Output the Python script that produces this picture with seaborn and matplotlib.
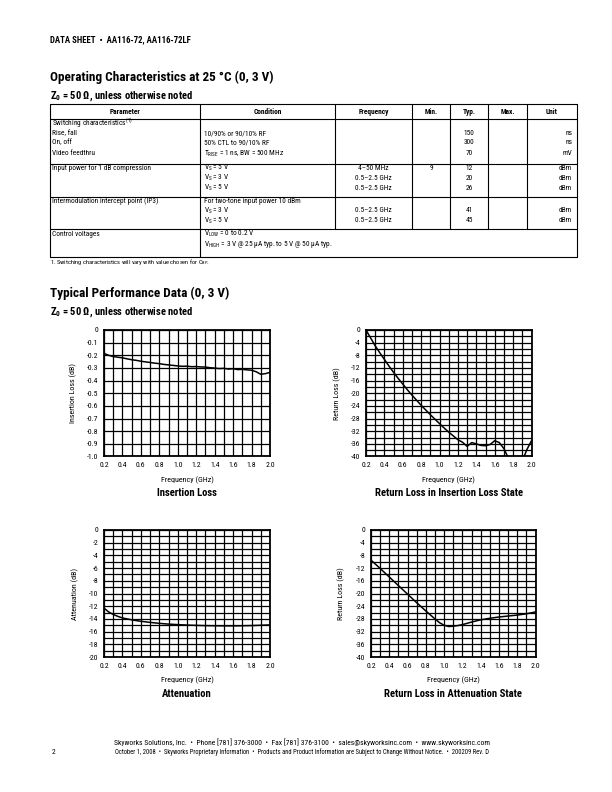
import matplotlib
matplotlib.use("Agg")
import matplotlib.pyplot as plt
import seaborn as sns
import pandas as pd
from matplotlib import font_manager as fm
from matplotlib.lines import Line2D
from matplotlib.ticker import MultipleLocator, FixedLocator, FixedFormatter

# ------------------------------------------------------------------ data
il_freq = [0.20, 0.25, 0.30, 0.35, 0.40, 0.45, 0.50, 0.55, 0.60, 0.65, 0.70, 0.75,
           0.80, 0.85, 0.90, 0.95, 1.00, 1.05, 1.10, 1.15, 1.20, 1.25, 1.30, 1.35,
           1.40, 1.45, 1.50, 1.55, 1.60, 1.65, 1.70, 1.75, 1.80, 1.85, 1.90, 1.95, 2.00]
il_db = [-0.185, -0.200, -0.210, -0.215, -0.220, -0.228, -0.235, -0.240, -0.247, -0.252,
         -0.257, -0.262, -0.266, -0.272, -0.276, -0.280, -0.284, -0.287, -0.286, -0.290,
         -0.289, -0.292, -0.293, -0.298, -0.301, -0.305, -0.303, -0.309, -0.306, -0.313,
         -0.311, -0.315, -0.318, -0.330, -0.350, -0.345, -0.335]

rl_il_freq = [0.20, 0.25, 0.30, 0.35, 0.40, 0.45, 0.50, 0.55, 0.60, 0.65, 0.70, 0.75,
              0.80, 0.85, 0.90, 0.95, 1.00, 1.05, 1.10, 1.15, 1.20, 1.25, 1.30, 1.35,
              1.40, 1.45, 1.50, 1.55, 1.60, 1.65, 1.70, 1.74, 1.78, 1.85, 1.90, 1.92,
              1.95, 2.00]
rl_il_db = [0.0, -2.5, -5.0, -7.2, -9.3, -11.4, -13.4, -15.3, -17.1, -18.9, -20.6, -22.2,
            -23.8, -25.3, -26.8, -28.2, -29.6, -31.0, -32.3, -33.5, -34.7, -35.5, -36.8, -35.6,
            -36.0, -36.5, -36.6, -36.2, -35.0, -35.6, -37.5, -40.0, -44.0, -46.0, -43.0, -40.0,
            -37.8, -35.0]

att_freq = [0.20, 0.25, 0.30, 0.35, 0.40, 0.50, 0.60, 0.70, 0.80, 0.90, 1.00, 1.10,
            1.20, 1.30, 1.40, 1.50, 1.60, 1.70, 1.80, 1.90, 2.00]
att_db = [-12.3, -12.9, -13.3, -13.6, -13.85, -14.15, -14.38, -14.55, -14.7, -14.82, -14.9,
          -14.97, -15.02, -15.06, -15.08, -15.1, -15.1, -15.08, -15.05, -15.0, -14.95]

rl_att_freq = [0.20, 0.30, 0.40, 0.50, 0.60, 0.70, 0.80, 0.90, 0.95, 1.00, 1.05, 1.10,
               1.15, 1.20, 1.30, 1.40, 1.50, 1.60, 1.70, 1.80, 1.90, 2.00]
rl_att_db = [-9.5, -12.1, -14.8, -17.5, -20.2, -22.9, -25.5, -28.0, -29.2, -30.0, -30.4,
             -30.3, -30.1, -29.8, -29.0, -28.3, -27.8, -27.4, -27.1, -26.8, -26.4, -25.8]

freq_ticks = [0.2, 0.4, 0.6, 0.8, 1.0, 1.2, 1.4, 1.6, 1.8, 2.0]
freq_tick_labels = ["0.2", "0.4", "0.6", "0.8", "1.0", "1.2", "1.4", "1.6", "1.8", "2.0"]
il_yticks = [0, -0.1, -0.2, -0.3, -0.4, -0.5, -0.6, -0.7, -0.8, -0.9, -1.0]
il_ytick_labels = ["0", "-0.1", "-0.2", "-0.3", "-0.4", "-0.5", "-0.6", "-0.7", "-0.8", "-0.9", "-1.0"]
rl_yticks = [0, -4, -8, -12, -16, -20, -24, -28, -32, -36, -40]
rl_ytick_labels = ["0", "-4", "-8", "-12", "-16", "-20", "-24", "-28", "-32", "-36", "-40"]
att_yticks = [0, -2, -4, -6, -8, -10, -12, -14, -16, -18, -20]
att_ytick_labels = ["0", "-2", "-4", "-6", "-8", "-10", "-12", "-14", "-16", "-18", "-20"]

header_text = "DATA SHEET  \u2022  AA116-72, AA116-72LF"
title_top = "Operating Characteristics at 25 \u00b0C (0, 3 V)"
title_bottom = "Typical Performance Data (0, 3 V)"
subtitle = r"$\mathbf{Z_0}$" + " = 50 \u03a9, unless otherwise noted"

table_header = ["Parameter", "Condition", "Frequency", "Min.", "Typ.", "Max.", "Unit"]
row1_param = [r"Switching characteristics$^{(1)}$", "Rise, fall", "On, off", "Video feedthru"]
row1_cond = ["", "10/90% or 90/10% RF", "50% CTL to 90/10% RF",
             r"T$_\mathrm{RISE}$ = 1 ns, BW = 500 MHz"]
row1_typ = ["", "150", "300", "70"]
row1_unit = ["", "ns", "ns", "mV"]
row2_param = ["Input power for 1 dB compression", "", ""]
row2_cond = [r"V$_\mathrm{S}$ = 5 V", r"V$_\mathrm{S}$ = 3 V", r"V$_\mathrm{S}$ = 5 V"]
row2_freq = ["4\u201350 MHz", "0.5\u20132.5 GHz", "0.5\u20132.5 GHz"]
row2_min = ["9", "", ""]
row2_typ = ["12", "20", "26"]
row2_unit = ["dBm", "dBm", "dBm"]
row3_param = ["Intermodulation intercept point (IP3)", "", ""]
row3_cond = ["For two-tone input power 10 dBm", r"V$_\mathrm{S}$ = 3 V", r"V$_\mathrm{S}$ = 5 V"]
row3_freq = ["", "0.5\u20132.5 GHz", "0.5\u20132.5 GHz"]
row3_typ = ["", "41", "45"]
row3_unit = ["", "dBm", "dBm"]
row4_param = ["Control voltages", ""]
row4_cond = [r"V$_\mathrm{LOW}$ = 0 to 0.2 V",
             r"V$_\mathrm{HIGH}$" + " = 3 V @ 25 \u00b5A typ. to 5 V @ 50 \u00b5A typ."]
footnote = r"1. Switching characteristics will vary with value chosen for C$_\mathrm{BP}$."

chart_titles = ["Insertion Loss", "Return Loss in Insertion Loss State",
                "Attenuation", "Return Loss in Attenuation State"]
ylabels = ["Insertion Loss (dB)", "Return Loss (dB)", "Attenuation (dB)", "Return Loss (dB)"]
xlabel = "Frequency (GHz)"

footer1 = ("Skyworks Solutions, Inc.  \u2022  Phone [781] 376-3000  \u2022  Fax [781] 376-3100  "
           "\u2022  sales@skyworksinc.com  \u2022  www.skyworksinc.com")
footer2 = ("October 1, 2008  \u2022  Skyworks Proprietary Information  \u2022  Products and Product "
           "Information are Subject to Change Without Notice.  \u2022  200209 Rev. D")
page_no = "2"

# ------------------------------------------------------------------ style
sns.set_style("white")
names = {f.name for f in fm.fontManager.ttflist}
FONT = "DejaVu Sans"
for cand in ["Liberation Sans Narrow", "Roboto Condensed", "DejaVu Sans Condensed",
             "Liberation Sans", "Roboto"]:
    if cand in names:
        FONT = cand
        break
plt.rcParams["font.family"] = [FONT, "DejaVu Sans"]
plt.rcParams["axes.unicode_minus"] = False
plt.rcParams["mathtext.fontset"] = "custom"
plt.rcParams["mathtext.rm"] = FONT
plt.rcParams["mathtext.bf"] = FONT + ":bold"
plt.rcParams["mathtext.it"] = FONT + ":italic"
plt.rcParams["mathtext.default"] = "rm"

W, H = 612, 792
fig = plt.figure(figsize=(W / 100, H / 100), dpi=100)
fig.patch.set_facecolor("white")


def fx(x):
    return x / W


def fy(y):
    return 1 - y / H


def txt(x, y, s, size=5.5, ha="left", weight="normal", **kw):
    fig.text(fx(x), fy(y), s, ha=ha, va="center", fontsize=size, fontweight=weight,
             color="black", **kw)


def hline(x0, x1, y, lw=0.8):
    fig.add_artist(Line2D([fx(x0), fx(x1)], [fy(y), fy(y)], transform=fig.transFigure,
                          color="black", lw=lw))


def vline(x, y0, y1, lw=0.8):
    fig.add_artist(Line2D([fx(x), fx(x)], [fy(y0), fy(y1)], transform=fig.transFigure,
                          color="black", lw=lw))


# ------------------------------------------------------------------ page text
txt(50, 40, header_text, size=6.3, weight="bold")
txt(50, 77, title_top, size=9.5, weight="bold")
txt(50, 96, subtitle, size=7.6, weight="bold")

# ------------------------------------------------------------------ table
t_left, t_right = 50, 577
col_x = [t_left, 200, 335, 412, 450, 488, 527, t_right]
row_y = [104, 118.5, 163.5, 196.5, 228.5, 256.5]
for y in row_y:
    hline(t_left, t_right, y)
vline(t_left, row_y[0], row_y[-1])
vline(t_right, row_y[0], row_y[-1])
vline(col_x[1], row_y[0], row_y[-1])
for x in col_x[2:-1]:
    vline(x, row_y[0], row_y[4])

centers = [(col_x[i] + col_x[i + 1]) / 2 for i in range(7)]
TS = 5.3
for i, h in enumerate(table_header):
    txt(centers[i], 111.5, h, size=TS, ha="center", weight="bold")

p_x = col_x[0] + 2.5
c_x = col_x[1] + 4
u_x = col_x[7] - 5
r1_y = [123.5, 133.5, 143, 153.5]
for k, y in enumerate(r1_y):
    txt(p_x, y, row1_param[k], size=TS)
    txt(c_x, y, row1_cond[k], size=TS)
    txt(centers[4], y, row1_typ[k], size=TS, ha="center")
    txt(u_x, y, row1_unit[k], size=TS, ha="right")
r2_y = [168.3, 178, 188]
for k, y in enumerate(r2_y):
    txt(p_x, y, row2_param[k], size=TS)
    txt(c_x, y, row2_cond[k], size=TS)
    txt(centers[2], y, row2_freq[k], size=TS, ha="center")
    txt(centers[3], y, row2_min[k], size=TS, ha="center")
    txt(centers[4], y, row2_typ[k], size=TS, ha="center")
    txt(u_x, y, row2_unit[k], size=TS, ha="right")
r3_y = [201.3, 211, 220.8]
for k, y in enumerate(r3_y):
    txt(p_x, y, row3_param[k], size=TS)
    txt(c_x, y, row3_cond[k], size=TS)
    txt(centers[2], y, row3_freq[k], size=TS, ha="center")
    txt(centers[4], y, row3_typ[k], size=TS, ha="center")
    txt(u_x, y, row3_unit[k], size=TS, ha="right")
r4_y = [234, 245]
for k, y in enumerate(r4_y):
    txt(p_x, y, row4_param[k], size=TS)
    txt(c_x, y, row4_cond[k], size=TS)
txt(50, 262, footnote, size=4.6)

# ------------------------------------------------------------------ section 2
txt(50, 293, title_bottom, size=9.5, weight="bold")
txt(50, 312, subtitle, size=7.6, weight="bold")

panels = [
    dict(box=(104, 270, 330, 456.5), fr=il_freq, val=il_db, ylim=(-1.0, 0),
         ystep=0.1, yt=il_yticks, ytl=il_ytick_labels, ylx=73),
    dict(box=(366, 531.5, 330, 456.5), fr=rl_il_freq, val=rl_il_db, ylim=(-40, 0),
         ystep=2, yt=rl_yticks, ytl=rl_ytick_labels, ylx=337),
    dict(box=(104, 270, 530, 657), fr=att_freq, val=att_db, ylim=(-20, 0),
         ystep=1, yt=att_yticks, ytl=att_ytick_labels, ylx=75),
    dict(box=(371, 535.5, 530, 657), fr=rl_att_freq, val=rl_att_db, ylim=(-40, 0),
         ystep=2, yt=rl_yticks, ytl=rl_ytick_labels, ylx=341),
]

for i, p in enumerate(panels):
    l, r, t, b = p["box"]
    ax = fig.add_axes([fx(l), fy(b), (r - l) / W, (b - t) / H])
    df = pd.DataFrame({"freq": p["fr"], "val": p["val"]})
    sns.lineplot(data=df, x="freq", y="val", ax=ax, color="black", lw=1.1,
                 zorder=5, sort=False)
    ax.set_xlim(0.2, 2.0)
    ax.set_ylim(*p["ylim"])
    ax.xaxis.set_major_locator(FixedLocator(freq_ticks))
    ax.xaxis.set_major_formatter(FixedFormatter(freq_tick_labels))
    ax.xaxis.set_minor_locator(MultipleLocator(0.1))
    ax.yaxis.set_major_locator(FixedLocator(p["yt"]))
    ax.yaxis.set_major_formatter(FixedFormatter(p["ytl"]))
    ax.yaxis.set_minor_locator(MultipleLocator(p["ystep"]))
    ax.grid(which="both", color="black", lw=0.9)
    ax.set_axisbelow(True)
    for s in ax.spines.values():
        s.set_color("black")
        s.set_linewidth(1.3)
        s.set_visible(True)
    ax.tick_params(which="both", length=0, labelsize=5.6, pad=4, colors="black")
    ax.set_xlabel("")
    ax.set_ylabel("")
    cx = (l + r) / 2
    txt(cx, b + 23.5, xlabel, size=5.8, ha="center")
    txt(cx, b + 37, chart_titles[i], size=7.7, ha="center", weight="bold")
    fig.text(fx(p["ylx"]), fy((t + b) / 2), ylabels[i], rotation=90, ha="center",
             va="center", fontsize=5.8, color="black")

# ------------------------------------------------------------------ footer
txt(302, 742, footer1, size=5.5, ha="center")
txt(302, 752, footer2, size=4.7, ha="center")
txt(52, 752, page_no, size=5.5)

fig.savefig("out.png", dpi=100, facecolor="white")
